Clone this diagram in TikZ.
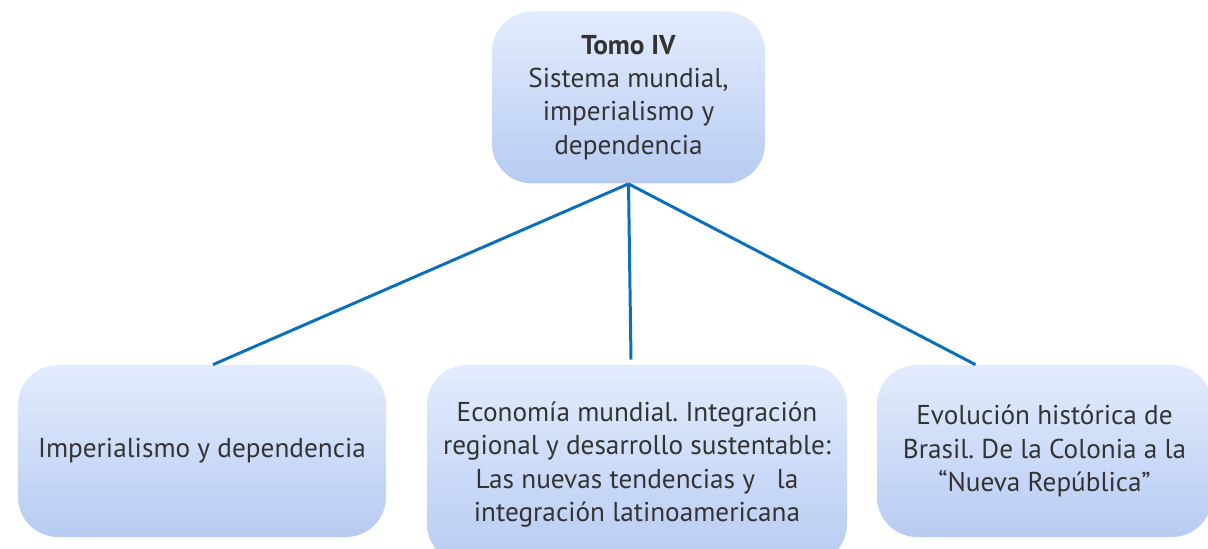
\documentclass[tikz,border=0pt]{standalone}
\usepackage{fontspec}
\setmainfont{PT Sans}
\frenchspacing
\usetikzlibrary{positioning}
\definecolor{boxtop}{HTML}{E3ECFD}
\definecolor{boxbot}{HTML}{B7CBF2}
\definecolor{linkblue}{HTML}{0A70BD}
\definecolor{txtgray}{HTML}{333333}
\tikzstyle{tema}=[rounded corners=0.8cm, top color=boxtop, bottom color=boxbot, draw=none, text=txtgray, align=center, inner sep=0pt, font=\fontsize{15.5}{19}\selectfont]
\tikzstyle{enlace}=[linkblue, line width=1.7pt]

\begin{document}
\begin{tikzpicture}
  \useasboundingbox (0,0) rectangle (24.16,-10.98);
  \node[tema, minimum width=5.46cm, minimum height=3.44cm] (tomo) at (12.57,-1.95) {\textbf{Tomo IV}\\Sistema mundial,\\imperialismo y\\dependencia};
  \node[tema, minimum width=7.36cm, minimum height=3.44cm] (imp) at (4.04,-9.02) {Imperialismo y dependencia};
  \node[tema, minimum width=8.40cm, minimum height=3.98cm] (eco) at (12.74,-9.29) {Economía mundial. Integración\\regional y desarrollo sustentable:\\Las nuevas tendencias y \ \ la\\integración latinoamericana};
  \node[tema, minimum width=6.70cm, minimum height=3.44cm] (bra) at (20.89,-9.02) {Evolución histórica de\\Brasil. De la Colonia a la\\“Nueva República”};
  \draw[enlace] (tomo.south) -- ([xshift=2.2mm]imp.north);
  \draw[enlace] (tomo.south) -- ([xshift=-1.2mm,yshift=1mm]eco.north);
  \draw[enlace] (tomo.south) -- ([xshift=-13.8mm]bra.north);
\end{tikzpicture}
\end{document}
